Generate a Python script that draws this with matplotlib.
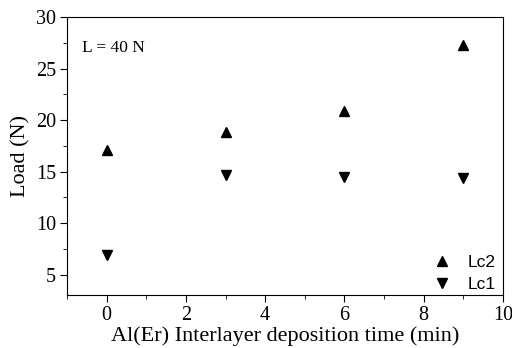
import matplotlib
matplotlib.use('Agg')
import matplotlib.pyplot as plt
from matplotlib.ticker import MultipleLocator

# data
time_min = [0, 3, 6, 9]
lc2 = [17.1, 18.8, 20.9, 27.3]
lc1 = [6.85, 14.7, 14.5, 14.4]

plt.rcParams['font.family'] = ['Liberation Serif', 'DejaVu Serif']

fig = plt.figure(figsize=(5.12, 3.48), dpi=100)
ax = fig.add_axes([0.131, 0.152, 0.851, 0.799])

ax.plot(time_min, lc2, linestyle='none', marker='^', color='black', markersize=6.5, label='Lc2')
ax.plot(time_min, lc1, linestyle='none', marker='v', color='black', markersize=6.5, label='Lc1')

ax.set_xlim(-1, 10)
ax.set_ylim(3, 30)
ax.xaxis.set_major_locator(MultipleLocator(2))
ax.xaxis.set_minor_locator(MultipleLocator(1))
ax.yaxis.set_major_locator(MultipleLocator(5))
ax.yaxis.set_minor_locator(MultipleLocator(2.5))
ax.tick_params(which='both', direction='out', top=False, right=False, labelsize=14.5)
ax.tick_params(which='major', length=5, pad=3)
ax.tick_params(which='minor', length=3)

ax.set_xlabel('Al(Er) Interlayer deposition time (min)', fontsize=16, labelpad=1)
ax.set_ylabel('Load (N)', fontsize=16, labelpad=4)

ax.text(0.034, 0.875, 'L = 40 N', transform=ax.transAxes, fontsize=12.5)

ax.legend(loc='lower right', frameon=False, prop={'family': 'Liberation Sans', 'size': 12.5},
          handlelength=1.0, handletextpad=1.0, labelspacing=0.4, borderaxespad=0.0,
          bbox_to_anchor=(1.0, -0.015))

fig.savefig('out.png', dpi=100)
